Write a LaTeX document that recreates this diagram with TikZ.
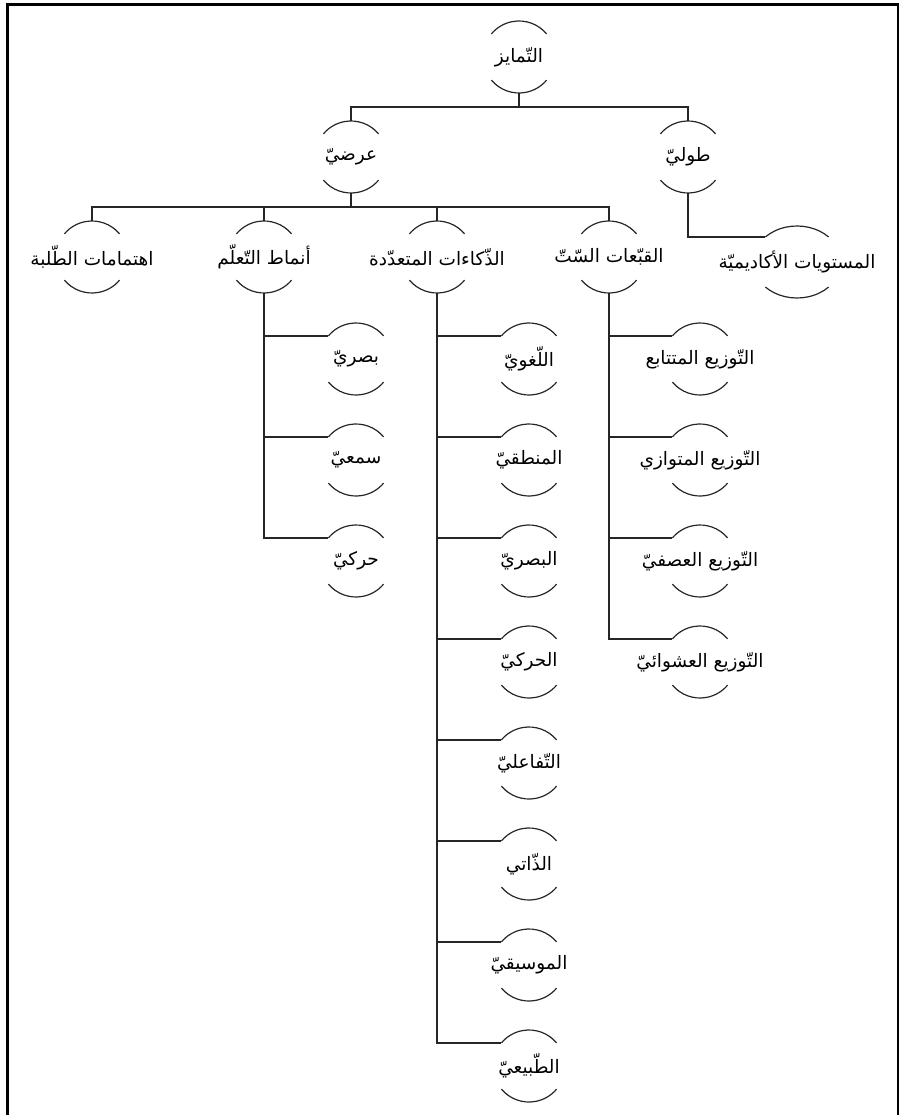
\documentclass[tikz,border=0pt]{standalone}
\usepackage{fontspec}
\newfontfamily\arabicfont[Script=Arabic]{DejaVu Sans}
\TeXXeTstate=1
\tikzset{
  bubtext/.style={rectangle, draw=none, inner sep=1pt, font=\arabicfont\fontsize{18.5}{22}\selectfont},
  arcline/.style={line width=1.2pt, black!85},
  conn/.style={line width=1.5pt, black!85},
  frameline/.style={line width=2.6pt, black}
}
\newcommand\bubl[5]{% name, position, angle, x radius, text
  \node[bubtext] (#1) at (#2) {#5};
  \pgfmathsetmacro\bubB{180-#3}
  \pgfmathsetmacro\bubC{180+#3}
  \pgfmathsetmacro\bubD{360-#3}
  \draw[arcline] ([shift={(#3:#4 and 36)}]#1.center) arc[start angle=#3, end angle=\bubB, x radius=#4, y radius=36];
  \draw[arcline] ([shift={(\bubC:#4 and 36)}]#1.center) arc[start angle=\bubC, end angle=\bubD, x radius=#4, y radius=36];
  \coordinate (#1-w) at ([shift={(\bubB:#4 and 36)}]#1.center);
  \coordinate (#1-n) at ([yshift=36pt]#1.center);
  \coordinate (#1-s) at ([yshift=-36pt]#1.center);
}
\begin{document}
\begin{tikzpicture}[x=1pt, y=1pt]
\useasboundingbox (0,0) rectangle (899,-1115);
\draw[frameline] (7.2,-1115) -- (7.2,-4.7) -- (897.8,-4.7) -- (897.8,-1115);

% level 0 and 1
\bubl{root}{519,-57}{40}{36}{\beginR التّمايز\endR}
\bubl{ard}{351,-157}{40}{36}{\beginR عرضيّ\endR}
\bubl{tul}{688,-157}{40}{36}{\beginR طوليّ\endR}
% level 2
\bubl{ihti}{92,-257}{40}{36}{\beginR اهتمامات الطّلبة\endR}
\bubl{anm}{264,-257}{40}{36}{\beginR أنماط التّعلّم\endR}
\bubl{dhk}{437,-257}{40}{36}{\beginR الذّكاءات المتعدّدة\endR}
\bubl{qub}{609,-257}{40}{36}{\beginR القبّعات السّتّ\endR}
\bubl{acad}{797,-262}{44}{44}{\beginR المستويات الأكاديميّة\endR}
% learning styles
\bubl{an1}{356,-359}{40}{36}{\beginR بصريّ\endR}
\bubl{an2}{356,-460}{40}{36}{\beginR سمعيّ\endR}
\bubl{an3}{356,-561}{40}{36}{\beginR حركيّ\endR}
% intelligences
\bubl{dh1}{529,-359}{40}{36}{\beginR اللّغويّ\endR}
\bubl{dh2}{529,-460}{40}{36}{\beginR المنطقيّ\endR}
\bubl{dh3}{529,-561}{40}{36}{\beginR البصريّ\endR}
\bubl{dh4}{529,-662}{40}{36}{\beginR الحركيّ\endR}
\bubl{dh5}{529,-763}{40}{36}{\beginR التّفاعليّ\endR}
\bubl{dh6}{529,-864}{40}{36}{\beginR الذّاتي\endR}
\bubl{dh7}{529,-965}{40}{36}{\beginR الموسيقيّ\endR}
\bubl{dh8}{529,-1066}{40}{36}{\beginR الطّبيعيّ\endR}
% hats
\bubl{qb1}{700,-359}{40}{36}{\beginR التّوزيع المتتابع\endR}
\bubl{qb2}{700,-460}{40}{36}{\beginR التّوزيع المتوازي\endR}
\bubl{qb3}{700,-561}{40}{36}{\beginR التّوزيع العصفيّ\endR}
\bubl{qb4}{700,-662}{40}{36}{\beginR التّوزيع العشوائيّ\endR}

% connectors
\coordinate (bus1) at (519,-107);
\coordinate (bus2) at (351,-207);
\draw[conn] (root-s) -- (bus1);
\draw[conn] (ard-n) |- (bus1) -| (tul-n);
\draw[conn] (ard-s) -- (bus2);
\draw[conn] (ihti-n) |- (bus2) -| (qub-n);
\draw[conn] (anm-n) -- (anm-n |- bus2);
\draw[conn] (dhk-n) -- (dhk-n |- bus2);
\draw[conn] (tul-s) |- (acad-w);

\draw[conn] (anm-s) |- (an3-w);
\foreach \n in {an1,an2} \draw[conn] (\n-w) -- (\n-w -| anm-s);
\draw[conn] (dhk-s) |- (dh8-w);
\foreach \n in {dh1,dh2,dh3,dh4,dh5,dh6,dh7} \draw[conn] (\n-w) -- (\n-w -| dhk-s);
\draw[conn] (qub-s) |- (qb4-w);
\foreach \n in {qb1,qb2,qb3} \draw[conn] (\n-w) -- (\n-w -| qub-s);
\end{tikzpicture}
\end{document}
